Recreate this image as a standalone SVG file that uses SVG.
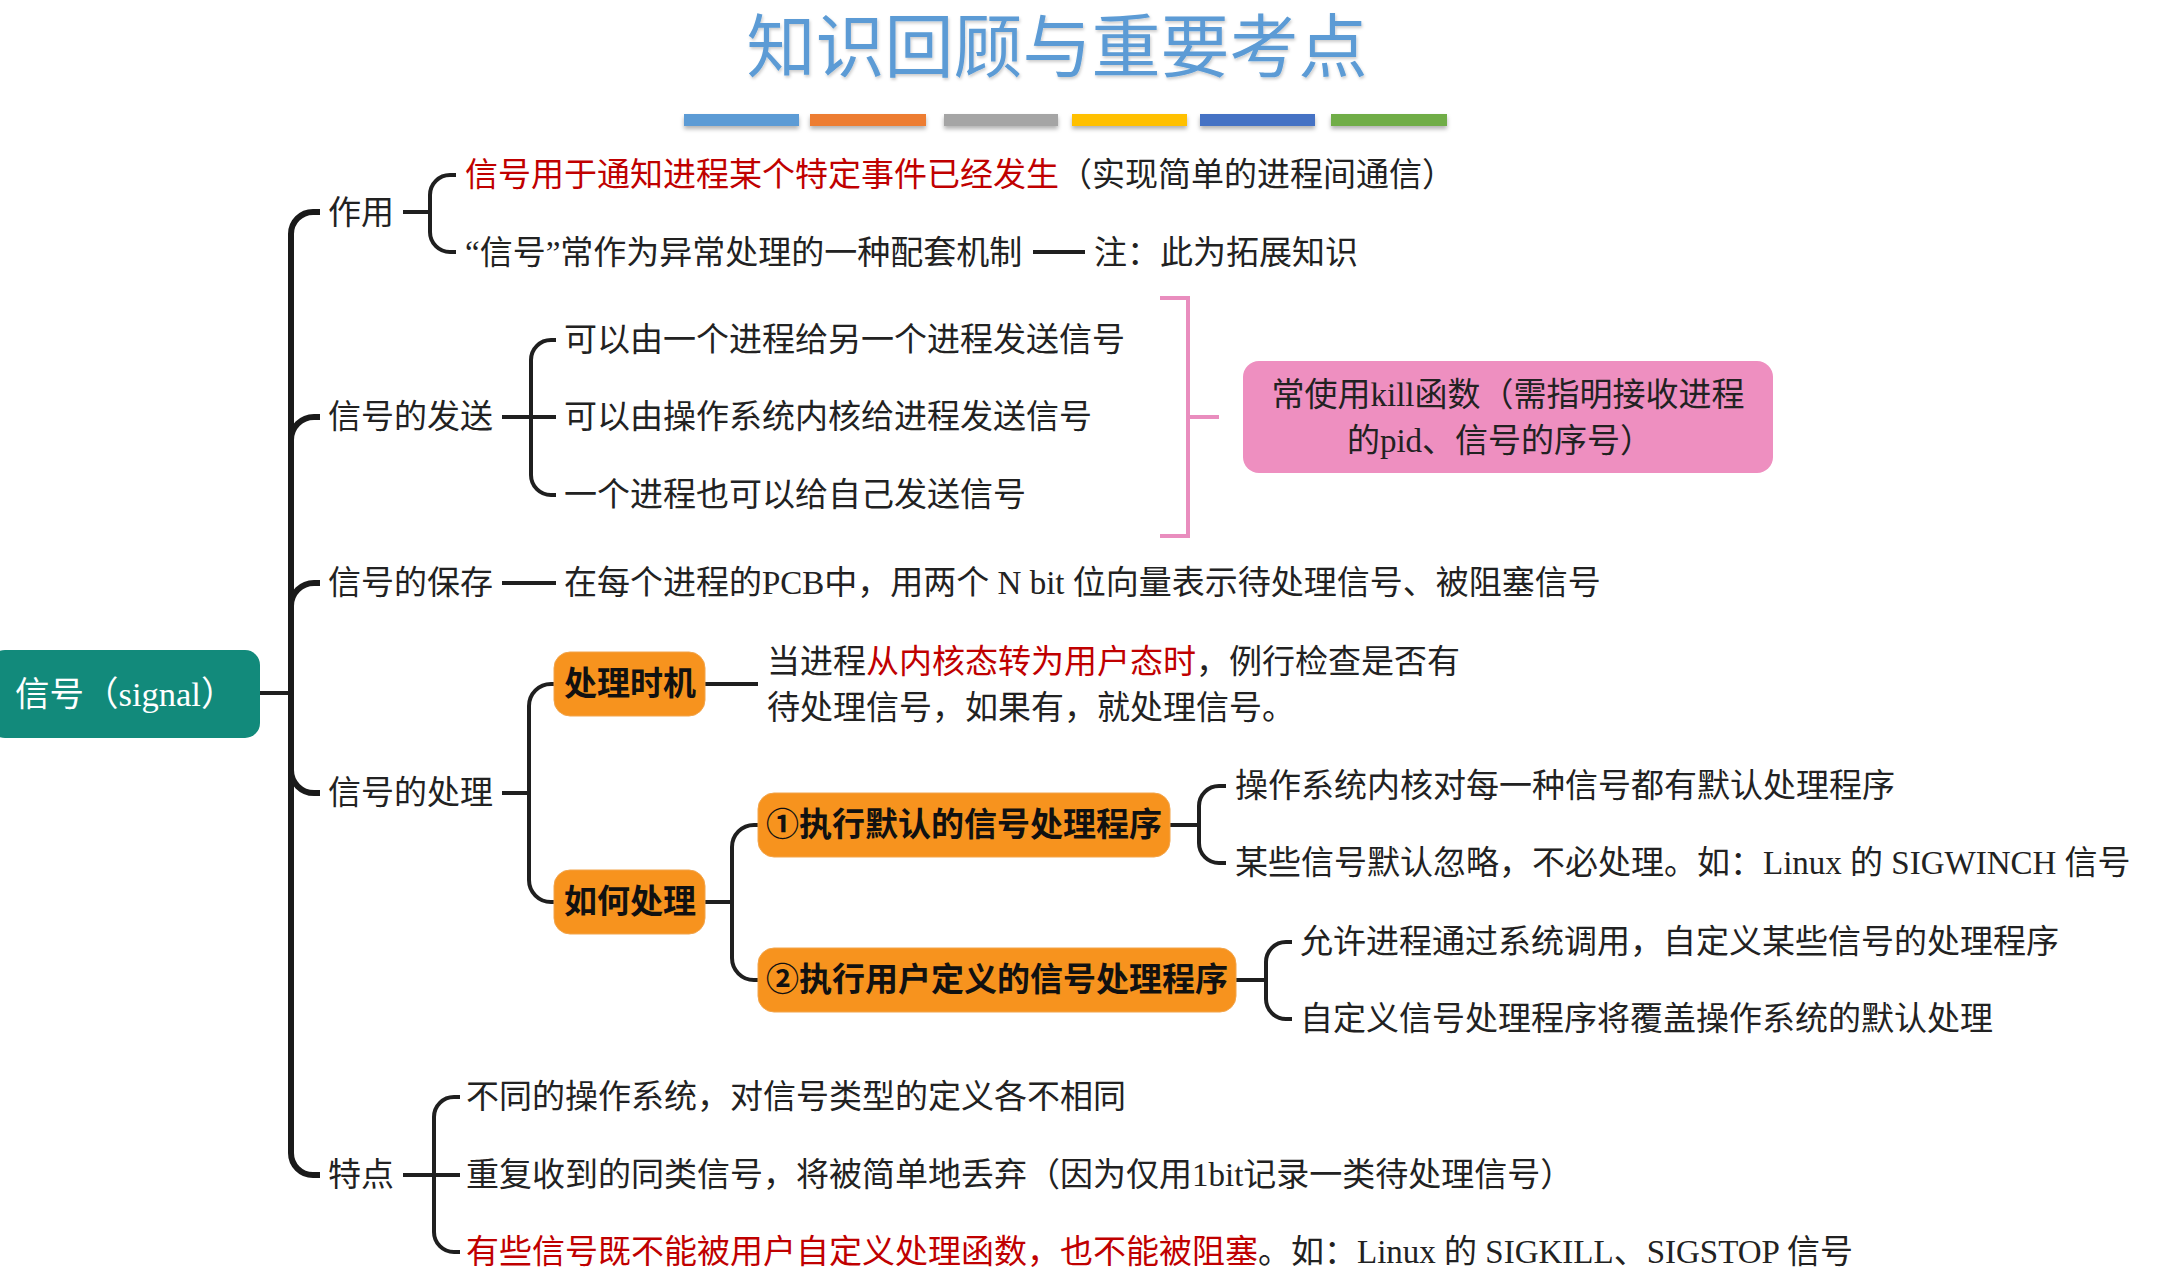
<svg xmlns="http://www.w3.org/2000/svg" width="2172" height="1275" viewBox="0 0 2172 1275">
<defs>
<style>
.t{font-family:"Liberation Serif","Noto Sans CJK SC",serif;font-size:33px;fill:#222;dominant-baseline:central}
.r{fill:#C00000}
.title{font-family:"Noto Sans CJK SC",sans-serif;font-size:69px;fill:#5B9BD5;text-anchor:middle;dominant-baseline:central}
.ob{fill:#F7931E;stroke:#F2A44A;stroke-width:1}
.ot{font-family:"Liberation Serif","Noto Sans CJK SC",sans-serif;font-size:33px;font-weight:700;fill:#111;text-anchor:middle;dominant-baseline:central}
.ln{fill:none;stroke:#1f1f1f;stroke-width:4;stroke-linecap:butt}
.trunk{fill:none;stroke:#1a1a1a;stroke-width:6}
.pk{fill:none;stroke:#E98DBE;stroke-width:4}
</style>
<filter id="sh" x="-10%" y="-50%" width="120%" height="250%">
<feDropShadow dx="0" dy="3" stdDeviation="2" flood-color="#000" flood-opacity="0.3"/>
</filter>
<filter id="tsh" x="-5%" y="-20%" width="110%" height="140%">
<feDropShadow dx="1" dy="2" stdDeviation="1.5" flood-color="#000" flood-opacity="0.2"/>
</filter>
</defs>
<rect width="2172" height="1275" fill="#ffffff"/>

<g id="title">
<text class="title" x="1057" y="42" filter="url(#tsh)">知识回顾与重要考点</text>
<g filter="url(#sh)">
<rect x="684" y="114" width="115" height="12" fill="#5B9BD5"/>
<rect x="810" y="114" width="116" height="12" fill="#ED7D31"/>
<rect x="944" y="114" width="114" height="12" fill="#A5A5A5"/>
<rect x="1072" y="114" width="115" height="12" fill="#FFC000"/>
<rect x="1200" y="114" width="115" height="12" fill="#4472C4"/>
<rect x="1331" y="114" width="116" height="12" fill="#70AD47"/>
</g>
</g>

<g id="connectors">
<path class="ln" d="M260 693 H291"/>
<path class="trunk" d="M320 212 H313 A22 22 0 0 0 291 234 V1153 A22 22 0 0 0 313 1175 H320"/>
<path class="trunk" d="M291 440 A23 23 0 0 1 314 417 H320"/>
<path class="trunk" d="M291 606 A23 23 0 0 1 314 583 H320"/>
<path class="trunk" d="M291 770 A23 23 0 0 0 314 793 H320"/>
<path class="ln" d="M403 212 H430"/>
<path class="ln" d="M456 175 H450 A20 20 0 0 0 430 195 V232 A20 20 0 0 0 450 252 H456"/>
<path class="ln" d="M1033 252 H1085"/>
<path class="ln" d="M502 417 H556"/>
<path class="ln" d="M556 340 H551 A20 20 0 0 0 531 360 V475 A20 20 0 0 0 551 495 H556"/>
<path class="ln" d="M502 583 H556"/>
<path class="ln" d="M502 793 H529"/>
<path class="ln" d="M555 684 H551 A22 22 0 0 0 529 706 V880 A22 22 0 0 0 551 902 H555"/>
<path class="ln" d="M705 684 H758"/>
<path class="ln" d="M705 902 H732"/>
<path class="ln" d="M758 825 H754 A22 22 0 0 0 732 847 V958 A22 22 0 0 0 754 980 H758"/>
<path class="ln" d="M1170 825 H1199"/>
<path class="ln" d="M1226 786 H1219 A20 20 0 0 0 1199 806 V843 A20 20 0 0 0 1219 863 H1226"/>
<path class="ln" d="M1236 980 H1266"/>
<path class="ln" d="M1292 942 H1286 A20 20 0 0 0 1266 962 V999 A20 20 0 0 0 1286 1019 H1292"/>
<path class="ln" d="M403 1175 H460"/>
<path class="ln" d="M460 1097 H454 A20 20 0 0 0 434 1117 V1232 A20 20 0 0 0 454 1252 H460"/>
<path class="pk" d="M1160 298 H1188 V536 H1160"/>
<path class="pk" d="M1188 417 H1219"/>
</g>

<g id="root">
<rect x="-10" y="650" width="270" height="88" rx="15" fill="#128A7B"/>
<text class="t" x="15" y="694" style="fill:#fff;font-size:34.5px">信号（signal）</text>
</g>

<g id="zuoyong">
<text class="t" x="328" y="213">作用</text>
<text class="t" x="465" y="175"><tspan class="r">信号用于通知进程某个特定事件已经发生</tspan>（实现简单的进程间通信）</text>
<text class="t" x="465" y="253">“信号”常作为异常处理的一种配套机制</text>
<text class="t" x="1094" y="253">注：此为拓展知识</text>
</g>

<g id="fasong">
<text class="t" x="328" y="417">信号的发送</text>
<text class="t" x="564" y="340">可以由一个进程给另一个进程发送信号</text>
<text class="t" x="564" y="417">可以由操作系统内核给进程发送信号</text>
<text class="t" x="564" y="495">一个进程也可以给自己发送信号</text>
</g>

<g id="kill">
<rect x="1243" y="361" width="530" height="112" rx="16" fill="#EE8FC0"/>
<text class="t" x="1508" y="395" text-anchor="middle">常使用kill函数（需指明接收进程</text>
<text class="t" x="1500" y="441" text-anchor="middle">的pid、信号的序号）</text>
</g>

<g id="baocun">
<text class="t" x="328" y="583">信号的保存</text>
<text class="t" x="564" y="583">在每个进程的PCB中，用两个 N bit 位向量表示待处理信号、被阻塞信号</text>
</g>

<g id="chuli">
<text class="t" x="328" y="793">信号的处理</text>
</g>

<g id="shiji">
<rect class="ob" x="554" y="652" width="151" height="64" rx="16"/>
<text class="ot" x="630" y="684">处理时机</text>
<text class="t" x="767" y="662">当进程<tspan class="r">从内核态转为用户态时</tspan>，例行检查是否有</text>
<text class="t" x="767" y="708">待处理信号，如果有，就处理信号。</text>
</g>

<g id="ruhe">
<rect class="ob" x="554" y="870" width="151" height="64" rx="16"/>
<text class="ot" x="630" y="902">如何处理</text>
</g>

<g id="moren">
<rect class="ob" x="758" y="793" width="412" height="64" rx="16"/>
<text class="ot" x="964" y="825">①执行默认的信号处理程序</text>
<text class="t" x="1235" y="786">操作系统内核对每一种信号都有默认处理程序</text>
<text class="t" x="1235" y="863">某些信号默认忽略，不必处理。如：Linux 的 SIGWINCH 信号</text>
</g>

<g id="zidingyi">
<rect class="ob" x="758" y="948" width="478" height="64" rx="16"/>
<text class="ot" x="997" y="980">②执行用户定义的信号处理程序</text>
<text class="t" x="1300" y="942">允许进程通过系统调用，自定义某些信号的处理程序</text>
<text class="t" x="1300" y="1019">自定义信号处理程序将覆盖操作系统的默认处理</text>
</g>

<g id="tedian">
<text class="t" x="328" y="1175">特点</text>
<text class="t" x="466" y="1097">不同的操作系统，对信号类型的定义各不相同</text>
<text class="t" x="466" y="1175">重复收到的同类信号，将被简单地丢弃（因为仅用1bit记录一类待处理信号）</text>
<text class="t" x="466" y="1252"><tspan class="r">有些信号既不能被用户自定义处理函数，也不能被阻塞</tspan>。如：Linux 的 SIGKILL、SIGSTOP 信号</text>
</g>
</svg>
